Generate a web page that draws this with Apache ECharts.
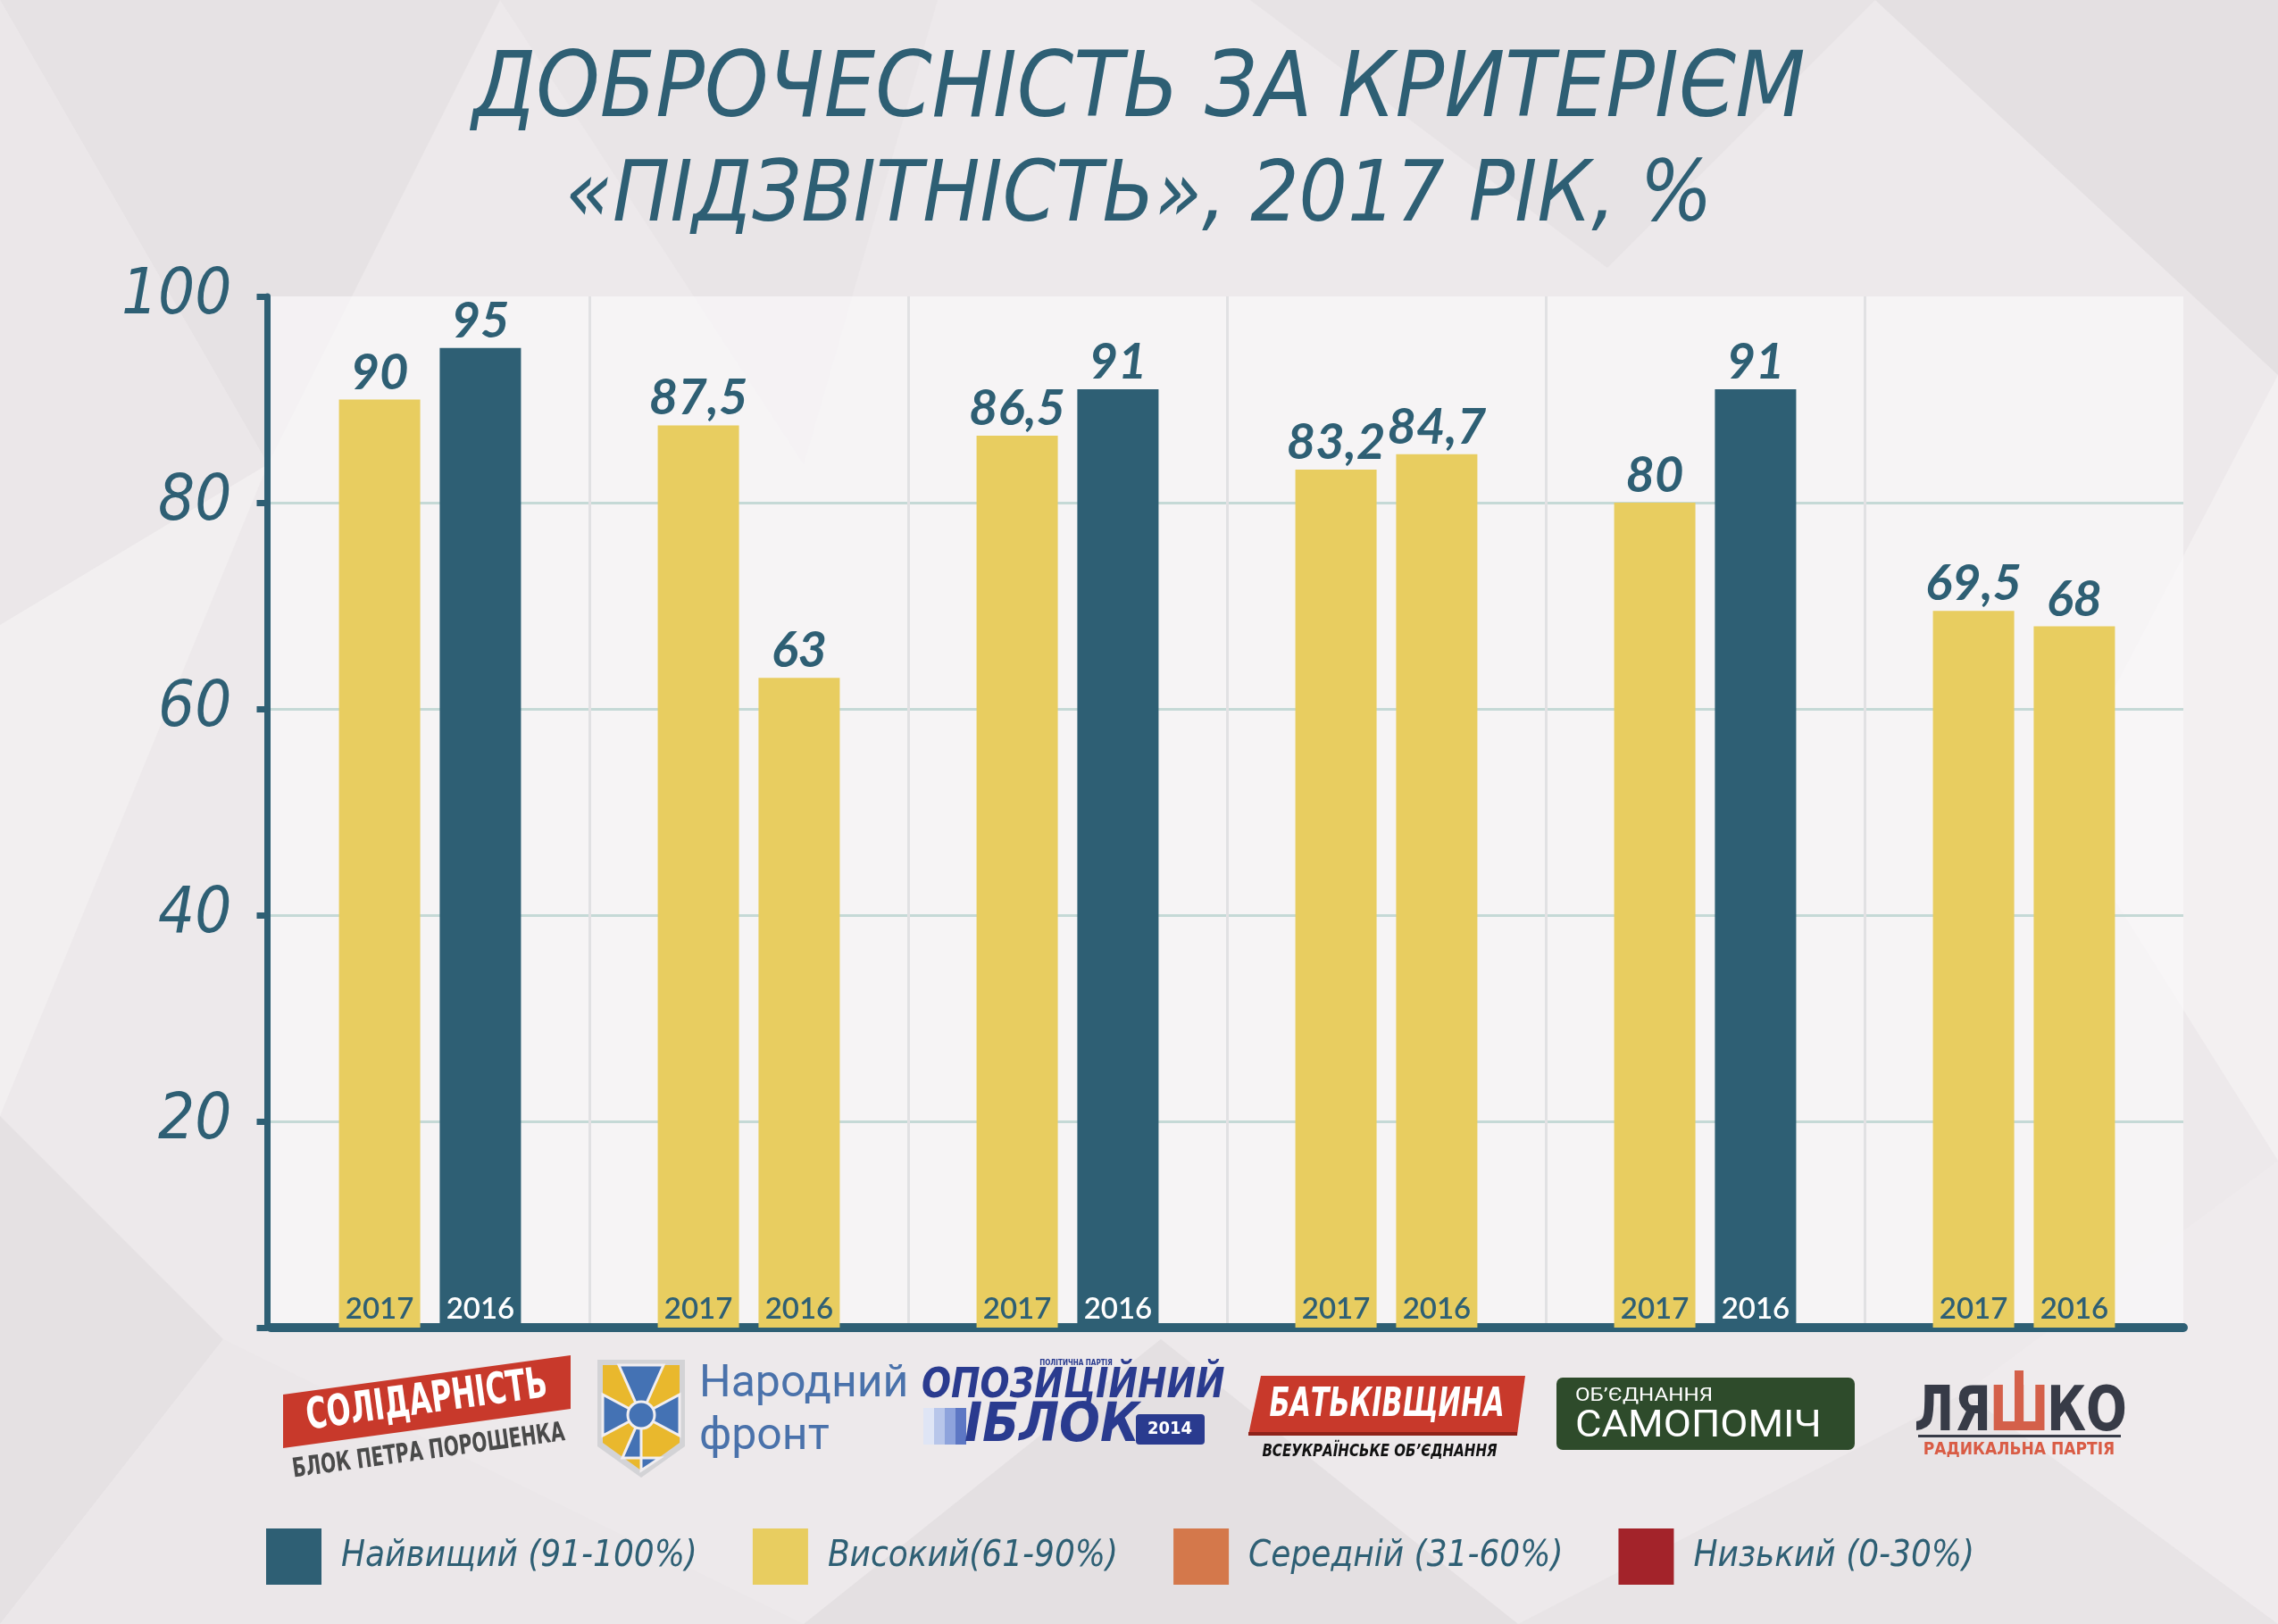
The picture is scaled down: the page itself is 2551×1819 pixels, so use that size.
<!DOCTYPE html>
<html>
<head>
<meta charset="utf-8">
<title>Доброчесність за критерієм «Підзвітність», 2017 рік</title>
<script src="https://cdn.jsdelivr.net/npm/echarts@6/dist/echarts.min.js"></script>
<style>
  html, body { margin: 0; padding: 0; background: #ede9eb; }
  #chart { width: 2551px; height: 1819px; }
</style>
</head>
<body>
<div id="chart"></div>
<script>
(function() {
  'use strict';

  // data
  var categories = ['Солідарність', 'Народний фронт', 'Опозиційний блок',
    'Батьківщина', 'Самопоміч', 'Радикальна партія'];
  var years = ['2017', '2016'];
  var values2017 = [90, 87.5, 86.5, 83.2, 80, 69.5];
  var values2016 = [95, 63, 91, 84.7, 91, 68];
  var yTicks = [0, 20, 40, 60, 80, 100];
  var titleLines = ['ДОБРОЧЕСНІСТЬ ЗА КРИТЕРІЄМ', '«ПІДЗВІТНІСТЬ», 2017 РІК, %'];
  var titleSizes = [101, 95];

  // rating levels (legend)
  var levelNames = ['Найвищий (91-100%)', 'Високий(61-90%)', 'Середній (31-60%)', 'Низький (0-30%)'];
  var levelMin = [91, 61, 31, 0];
  var levelMax = [100, 91, 61, 31];
  var levelColors = ['#2e5f74', '#e8cd60', '#d4784b', '#a3232a'];

  var DARK = '#2e5f74';
  var COND = '"DejaVu Sans Condensed", "DejaVu Sans", sans-serif';

  var chart = echarts.init(document.getElementById('chart'), null, {renderer: 'canvas'});

  // year caption sits inside the foot of each bar
  function yearData(vals, year) {
    return vals.map(function(v) {
      return {
        value: 0,
        label: {color: v >= levelMin[0] ? '#ffffff' : DARK, formatter: year}
      };
    });
  }

  function fmt(p) {
    return String(p.value).replace('.', ',');
  }

  var pieces = levelNames.map(function(name, i) {
    var p = {gte: levelMin[i], label: name, color: levelColors[i]};
    if (i === 0) {
      p.lte = levelMax[i];
    } else {
      p.lt = levelMax[i];
    }
    return p;
  });

  // light low-poly backdrop
  var bgPolys = [
    {pts: [[0, 0], [560, 0], [300, 520]], c: '#e6e2e4'},
    {pts: [[0, 0], [300, 520], [0, 700]], c: '#ebe7e9'},
    {pts: [[560, 0], [1050, 0], [900, 520]], c: '#e9e5e7'},
    {pts: [[1400, 0], [2100, 0], [1800, 300]], c: '#e7e3e5'},
    {pts: [[2100, 0], [2551, 0], [2551, 420]], c: '#e4e0e2'},
    {pts: [[2551, 420], [2300, 900], [2551, 1300]], c: '#f3f0f1'},
    {pts: [[0, 700], [300, 520], [0, 1250]], c: '#f2eff0'},
    {pts: [[0, 1250], [250, 1500], [0, 1819]], c: '#e5e1e3'},
    {pts: [[250, 1500], [900, 1819], [0, 1819]], c: '#ebe7e9'},
    {pts: [[900, 1819], [1300, 1500], [1700, 1819]], c: '#e4e0e2'},
    {pts: [[1700, 1819], [2200, 1560], [2551, 1819]], c: '#e8e4e6'},
    {pts: [[2200, 1560], [2551, 1300], [2551, 1819]], c: '#efebed'}
  ];

  var graphics = bgPolys.map(function(b) {
    return {type: 'polygon', silent: true, z: -10, shape: {points: b.pts}, style: {fill: b.c}};
  });

  var ARM = {fill: '#4472b4', stroke: '#f1eef0', lineWidth: 3};

  // party logos under the axis
  graphics = graphics.concat([
    // Солідарність
    {type: 'polygon', shape: {points: [[317, 1562], [639, 1518], [639, 1578], [317, 1622]]},
      style: {fill: '#c8392b'}},
    {type: 'text', x: 478, y: 1570, rotation: 0.136, scaleX: 0.84, scaleY: 1.15,
      style: {text: 'СОЛІДАРНІСТЬ', fill: '#fff', font: 'bold 42px ' + COND,
        align: 'center', verticalAlign: 'middle'}},
    {type: 'text', x: 480, y: 1626, rotation: 0.136, scaleX: 0.86, scaleY: 1.15,
      style: {text: 'БЛОК ПЕТРА ПОРОШЕНКА', fill: '#4a4a4a', font: 'bold 26px ' + COND,
        align: 'center', verticalAlign: 'middle'}},

    // Народний фронт
    {type: 'polygon', shape: {points: [[669, 1523], [767, 1523], [767, 1620], [718, 1655], [669, 1620]]},
      style: {fill: '#d3d3d6'}},
    {type: 'polygon', shape: {points: [[675, 1529], [761, 1529], [761, 1616], [718, 1647], [675, 1616]]},
      style: {fill: '#e9b82d'}},
    {type: 'polygon', shape: {points: [[693, 1529], [743, 1529], [718, 1585]]}, style: ARM},
    {type: 'polygon', shape: {points: [[697, 1633], [739, 1633], [718, 1647], [718, 1585]]}, style: ARM},
    {type: 'polygon', shape: {points: [[675, 1562], [675, 1608], [718, 1585]]}, style: ARM},
    {type: 'polygon', shape: {points: [[761, 1562], [761, 1608], [718, 1585]]}, style: ARM},
    {type: 'circle', shape: {cx: 718, cy: 1585, r: 15}, style: ARM},
    {type: 'text', x: 783, y: 1551, style: {text: 'Народний', fill: '#4a72ab',
      font: '50px Roboto, "Open Sans", sans-serif', verticalAlign: 'middle'}},
    {type: 'text', x: 783, y: 1610, style: {text: 'фронт', fill: '#4a72ab',
      font: '50px Roboto, "Open Sans", sans-serif', verticalAlign: 'middle'}},

    // Опозиційний блок
    {type: 'text', x: 1205, y: 1527, style: {text: 'ПОЛІТИЧНА ПАРТІЯ', fill: '#2a3b8f',
      font: 'bold 8px ' + COND, align: 'center', verticalAlign: 'middle'}},
    {type: 'text', x: 1032, y: 1553, scaleX: 0.92, style: {text: 'ОПОЗИЦІЙНИЙ', fill: '#2a3b8f',
      font: 'italic bold 47px ' + COND, verticalAlign: 'middle'}},
    {type: 'rect', shape: {x: 1034, y: 1577, width: 12, height: 41}, style: {fill: '#dfe5f5'}},
    {type: 'rect', shape: {x: 1046, y: 1577, width: 12, height: 41}, style: {fill: '#b8c6ea'}},
    {type: 'rect', shape: {x: 1058, y: 1577, width: 12, height: 41}, style: {fill: '#8ea3dc'}},
    {type: 'rect', shape: {x: 1070, y: 1577, width: 12, height: 41}, style: {fill: '#5d77c4'}},
    {type: 'text', x: 1080, y: 1598, style: {text: 'ІБЛОК', fill: '#2a3b8f',
      font: 'italic bold 60px ' + COND, verticalAlign: 'middle'}},
    {type: 'rect', shape: {x: 1272, y: 1584, width: 77, height: 34, r: 4}, style: {fill: '#2a3b8f'}},
    {type: 'text', x: 1310, y: 1601, style: {text: '2014', fill: '#fff',
      font: 'bold 20px ' + COND, align: 'center', verticalAlign: 'middle'}},

    // Батьківщина
    {type: 'polygon', shape: {points: [[1412, 1541], [1708, 1541], [1699, 1607], [1398, 1607]]},
      style: {fill: '#c8392b'}},
    {type: 'rect', shape: {x: 1398, y: 1604, width: 301, height: 4}, style: {fill: '#8e2219'}},
    {type: 'text', x: 1553, y: 1575, scaleX: 0.84, scaleY: 1.1, style: {text: 'БАТЬКІВЩИНА', fill: '#fff',
      font: 'italic bold 40px ' + COND, align: 'center', verticalAlign: 'middle'}},
    {type: 'text', x: 1545, y: 1626, scaleX: 0.88, style: {text: 'ВСЕУКРАЇНСЬКЕ ОБ\u2019ЄДНАННЯ', fill: '#111',
      font: 'italic bold 19px ' + COND, align: 'center', verticalAlign: 'middle'}},

    // Самопоміч
    {type: 'rect', shape: {x: 1743, y: 1543, width: 334, height: 81, r: 7}, style: {fill: '#2e4b2b'}},
    {type: 'text', x: 1764, y: 1564, scaleX: 1.15, style: {text: 'ОБ\u2019ЄДНАННЯ', fill: '#fff',
      font: '21px Roboto, sans-serif', verticalAlign: 'middle'}},
    {type: 'text', x: 1764, y: 1598, scaleX: 1.08, style: {text: 'САМОПОМІЧ', fill: '#fff',
      font: '42px Roboto, sans-serif', verticalAlign: 'middle'}},

    // Радикальна партія Ляшка
    {type: 'text', x: 2230, y: 1584, scaleY: 1.15, style: {text: 'ЛЯ', fill: '#373b47',
      font: 'bold 60px ' + COND, align: 'right', verticalAlign: 'middle'}},
    {type: 'rect', shape: {x: 2256, y: 1535, width: 10, height: 28}, style: {fill: '#d4604a'}},
    {type: 'text', x: 2261, y: 1584, scaleY: 1.15, style: {text: 'Ш', fill: '#d4604a',
      font: 'bold 60px ' + COND, align: 'center', verticalAlign: 'middle'}},
    {type: 'text', x: 2292, y: 1584, scaleY: 1.15, style: {text: 'КО', fill: '#373b47',
      font: 'bold 60px ' + COND, verticalAlign: 'middle'}},
    {type: 'rect', shape: {x: 2148, y: 1607, width: 227, height: 3}, style: {fill: '#373b47'}},
    {type: 'text', x: 2261, y: 1624, scaleX: 0.95, style: {text: 'РАДИКАЛЬНА ПАРТІЯ', fill: '#d95c45',
      font: 'bold 20px ' + COND, align: 'center', verticalAlign: 'middle'}}
  ]);

  var options = {
    backgroundColor: '#ede9eb',
    animation: false,
    title: titleLines.map(function(line, i) {
      return {
        text: line, left: 'center', top: 48 + i * 122,
        textStyle: {
          fontFamily: COND,
          fontStyle: 'italic',
          fontWeight: 'normal',
          fontSize: titleSizes[i],
          color: DARK
        }
      };
    }),
    grid: {
      left: 303,
      right: 106,
      top: 332,
      bottom: 332,
      show: true,
      backgroundColor: 'rgba(250,248,249,0.7)',
      borderWidth: 0
    },
    xAxis: {
      type: 'category',
      data: categories,
      offset: 5,
      axisLine: {lineStyle: {color: DARK, width: 10}},
      axisTick: {show: false},
      axisLabel: {show: false},
      splitLine: {show: true, showMinLine: false, showMaxLine: false,
        lineStyle: {color: '#e1e1e3', width: 3}}
    },
    yAxis: {
      type: 'value',
      min: yTicks[0],
      max: yTicks[yTicks.length - 1],
      interval: yTicks[1] - yTicks[0],
      offset: 3.5,
      axisLine: {show: true, lineStyle: {color: DARK, width: 7}},
      axisTick: {show: true, length: 12, lineStyle: {color: DARK, width: 7}},
      axisLabel: {
        margin: 40,
        fontFamily: COND,
        fontStyle: 'italic',
        fontSize: 72,
        color: DARK,
        formatter: function(v) { return v === 0 ? '' : String(v); }
      },
      splitLine: {show: true, showMaxLine: false, lineStyle: {color: '#c5d9d6', width: 3}}
    },
    visualMap: {
      type: 'piecewise',
      orient: 'horizontal',
      inverse: true,
      left: 283,
      top: 1697,
      seriesIndex: [2, 3],
      pieces: pieces,
      itemWidth: 62,
      itemHeight: 63,
      itemSymbol: 'rect',
      itemGap: 62,
      textGap: 22,
      selectedMode: false,
      hoverLink: false,
      textStyle: {
        fontFamily: COND,
        fontStyle: 'italic',
        fontSize: 40,
        color: DARK
      }
    },
    graphic: graphics,
    series: [
      {
        type: 'bar', name: years[0] + ' рік', stack: 's' + years[0], z: 4, silent: true,
        barWidth: 91, barGap: '24%',
        itemStyle: {color: 'rgba(0,0,0,0)'},
        label: {show: true, position: 'top', distance: 4, fontFamily: 'Lato', fontWeight: 600, fontSize: 33},
        data: yearData(values2017, years[0])
      },
      {
        type: 'bar', name: years[1] + ' рік', stack: 's' + years[1], z: 4, silent: true,
        barWidth: 91, barGap: '24%',
        itemStyle: {color: 'rgba(0,0,0,0)'},
        label: {show: true, position: 'top', distance: 4, fontFamily: 'Lato', fontWeight: 600, fontSize: 33},
        data: yearData(values2016, years[1])
      },
      {
        type: 'bar', name: years[0], stack: 's' + years[0],
        barWidth: 91, barGap: '24%',
        label: {show: true, position: 'top', distance: 2, formatter: fmt,
          fontFamily: 'Lato', fontStyle: 'italic', fontWeight: 'bold', fontSize: 56, color: DARK},
        data: values2017
      },
      {
        type: 'bar', name: years[1], stack: 's' + years[1],
        barWidth: 91, barGap: '24%',
        label: {show: true, position: 'top', distance: 2, formatter: fmt,
          fontFamily: 'Lato', fontStyle: 'italic', fontWeight: 'bold', fontSize: 56, color: DARK},
        data: values2016
      }
    ]
  };

  chart.setOption(options);
})();
</script>
</body>
</html>
